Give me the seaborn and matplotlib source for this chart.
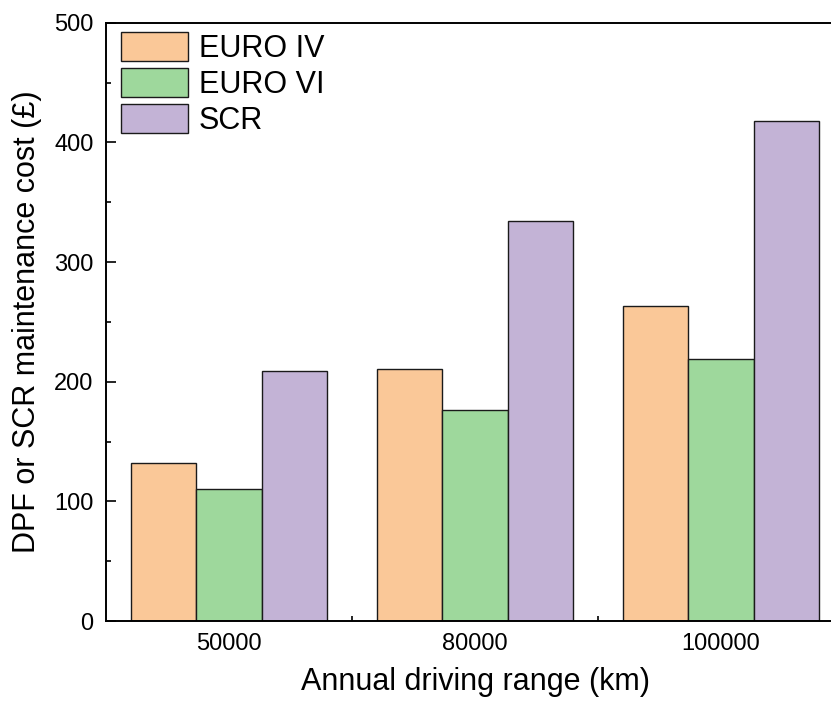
import matplotlib
matplotlib.use("Agg")
import matplotlib.pyplot as plt
import seaborn as sns
import pandas as pd
from matplotlib.ticker import MultipleLocator, FixedLocator

categories = ["50000", "80000", "100000"]
series_names = ["EURO IV", "EURO VI", "SCR"]
euro_iv = [132, 211, 263]
euro_vi = [110, 176, 219]
scr = [209, 334, 418]
colors = ["#FAC898", "#9ED89C", "#C3B3D6"]

rows = []
for name, vals in zip(series_names, [euro_iv, euro_vi, scr]):
    for c, v in zip(categories, vals):
        rows.append({"range": c, "series": name, "cost": v})
df = pd.DataFrame(rows)

sns.set_style("ticks")
plt.rcParams["font.family"] = ["Liberation Sans", "DejaVu Sans"]
plt.rcParams["text.color"] = "black"
plt.rcParams["axes.labelcolor"] = "black"
plt.rcParams["xtick.color"] = "black"
plt.rcParams["ytick.color"] = "black"

W, H = 831, 707
fig = plt.figure(figsize=(W / 100, H / 100), dpi=100)
left, right, top, bottom = 106, 844, 22.7, 621
ax = fig.add_axes([left / W, (H - bottom) / H, (right - left) / W, (bottom - top) / H])

sns.barplot(data=df, x="range", y="cost", hue="series", order=categories,
            hue_order=series_names, palette=colors, edgecolor="#1a1a1a",
            linewidth=1.0, width=0.8, saturation=1, ax=ax, errorbar=None)

ax.set_xlim(-0.5, 2.5)
ax.set_ylim(0, 500)
ax.yaxis.set_major_locator(MultipleLocator(100))
ax.yaxis.set_minor_locator(MultipleLocator(50))
ax.xaxis.set_minor_locator(FixedLocator([0.5, 1.5]))

for s in ["left", "bottom", "top"]:
    ax.spines[s].set_linewidth(1.4)
    ax.spines[s].set_color("black")
ax.spines["right"].set_visible(False)

ax.tick_params(axis="both", which="major", direction="in", length=7, width=1.2,
               labelsize=17, colors="black")
ax.tick_params(axis="both", which="minor", direction="in", length=3.5, width=1.2,
               colors="black")
ax.tick_params(axis="y", which="major", pad=9)
ax.tick_params(axis="x", which="major", pad=9)

ax.set_xlabel("Annual driving range (km)", fontsize=22, labelpad=8, color="black")
ax.set_ylabel("DPF or SCR maintenance cost (£)", fontsize=22, labelpad=9, color="black")

leg = ax.legend(loc="upper left", bbox_to_anchor=(15 / (right - left), 1 - 9 / (bottom - top)),
                frameon=False, fontsize=22, handlelength=2.2, handleheight=1.1,
                handletextpad=0.35, labelspacing=0.13, borderpad=0, borderaxespad=0)
for t in leg.get_texts():
    t.set_color("black")

fig.savefig("out.png", dpi=100)
